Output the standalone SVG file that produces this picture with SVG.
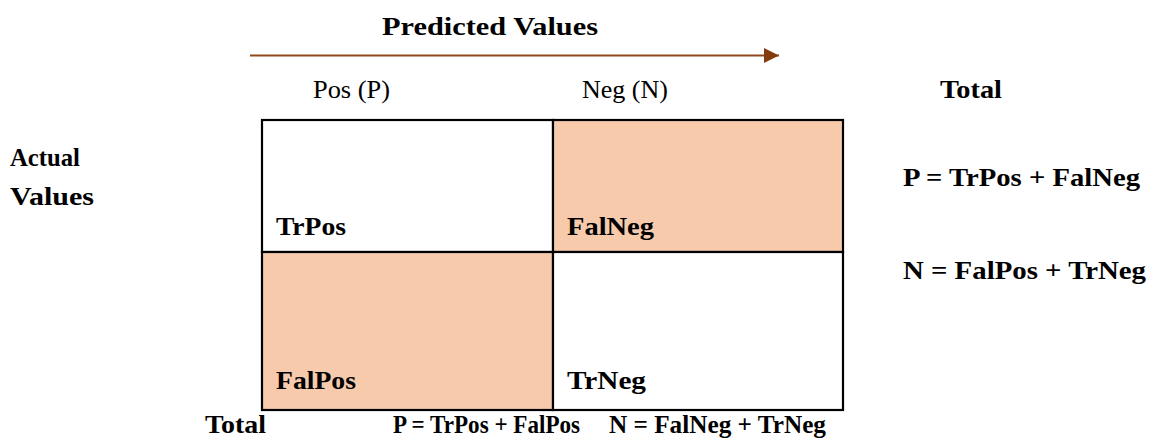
<svg xmlns="http://www.w3.org/2000/svg" width="1155" height="440" viewBox="0 0 1155 440">
<defs>
<style>
.b{font-family:"Liberation Serif","Times New Roman",serif;font-weight:bold;font-size:26px;fill:#000}
.r{font-family:"Liberation Serif","Times New Roman",serif;font-size:25px;fill:#000}
.cell{stroke:#000;stroke-width:2.2}
.peach{fill:#F7CAAC}
.white{fill:#FFFFFF}
</style>
<marker id="ah" viewBox="0 0 10 10" refX="10" refY="5" markerWidth="15" markerHeight="15" markerUnits="userSpaceOnUse" orient="auto">
<path d="M0,0 L10,5 L0,10 Z" fill="#843C0C"/>
</marker>
</defs>
<rect width="1155" height="440" fill="#fff"/>
<g id="connectors">
<line x1="250" y1="55.5" x2="779" y2="55.5" stroke="#8E4A1E" stroke-width="2" marker-end="url(#ah)"/>
</g>
<g id="header">
<text class="b" x="382" y="35" textLength="216" lengthAdjust="spacingAndGlyphs">Predicted Values</text>
<text class="r" x="313" y="98" textLength="77" lengthAdjust="spacingAndGlyphs">Pos (P)</text>
<text class="r" x="582" y="98" textLength="86" lengthAdjust="spacingAndGlyphs">Neg (N)</text>
<text class="b" x="940" y="98" textLength="62" lengthAdjust="spacingAndGlyphs">Total</text>
</g>
<g id="row-label">
<text class="b" x="10" y="166" textLength="70" lengthAdjust="spacingAndGlyphs">Actual</text>
<text class="b" x="10" y="205" textLength="84" lengthAdjust="spacingAndGlyphs">Values</text>
</g>
<g id="cell-trpos">
<rect class="cell white" x="262" y="120" width="291" height="132"/>
<text class="b" x="276" y="235" textLength="70" lengthAdjust="spacingAndGlyphs">TrPos</text>
</g>
<g id="cell-falneg">
<rect class="cell peach" x="553" y="120" width="290" height="132"/>
<text class="b" x="567" y="235" textLength="87" lengthAdjust="spacingAndGlyphs">FalNeg</text>
</g>
<g id="cell-falpos">
<rect class="cell peach" x="262" y="252" width="291" height="158"/>
<text class="b" x="276" y="389" textLength="80" lengthAdjust="spacingAndGlyphs">FalPos</text>
</g>
<g id="cell-trneg">
<rect class="cell white" x="553" y="252" width="290" height="158"/>
<text class="b" x="567" y="389" textLength="79" lengthAdjust="spacingAndGlyphs">TrNeg</text>
</g>
<g id="totals-right">
<text class="b" x="903" y="186" textLength="237" lengthAdjust="spacingAndGlyphs">P = TrPos + FalNeg</text>
<text class="b" x="903" y="279" textLength="243" lengthAdjust="spacingAndGlyphs">N = FalPos + TrNeg</text>
</g>
<g id="totals-bottom">
<text class="b" x="205" y="433" textLength="61" lengthAdjust="spacingAndGlyphs">Total</text>
<text class="b" x="393" y="433" textLength="187" lengthAdjust="spacingAndGlyphs">P = TrPos + FalPos</text>
<text class="b" x="609" y="433" textLength="217" lengthAdjust="spacingAndGlyphs">N = FalNeg + TrNeg</text>
</g>
</svg>
